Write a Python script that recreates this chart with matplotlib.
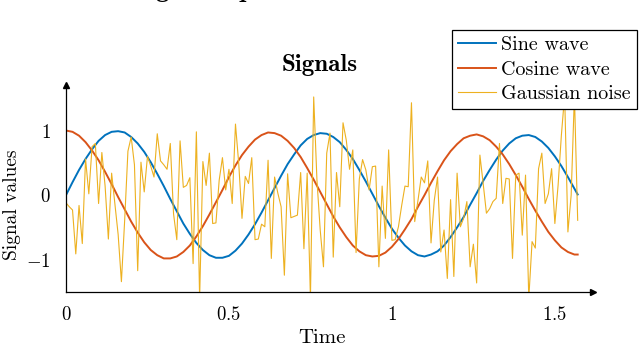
import numpy as np
import matplotlib.pyplot as plt

plt.rcParams['font.family'] = 'serif'
plt.rcParams['font.serif'] = ['cmr10']
plt.rcParams['mathtext.fontset'] = 'cm'
plt.rcParams['axes.unicode_minus'] = False

# sample times (wave curves every 0.02, noise every 0.01)
t_wave = np.append(np.arange(79) * 0.02, 1.57)
t_noise = np.arange(158) * 0.01

sine = [0.00, 0.20, 0.39, 0.56, 0.71, 0.84, 0.93, 0.98, 0.99, 0.97,
        0.90, 0.80, 0.67, 0.51, 0.33, 0.14, -0.06, -0.25, -0.44, -0.60,
        -0.74, -0.85, -0.93, -0.97, -0.97, -0.94, -0.86, -0.75, -0.61, -0.45,
        -0.27, -0.08, 0.11, 0.30, 0.48, 0.63, 0.77, 0.87, 0.93, 0.96,
        0.95, 0.90, 0.82, 0.70, 0.56, 0.39, 0.21, 0.02, -0.17, -0.35,
        -0.52, -0.66, -0.78, -0.87, -0.93, -0.95, -0.92, -0.87, -0.78, -0.65,
        -0.50, -0.34, -0.15, 0.03, 0.22, 0.39, 0.55, 0.69, 0.80, 0.88,
        0.92, 0.93, 0.90, 0.83, 0.73, 0.60, 0.45, 0.28, 0.10, 0.01]

cosine = [1.00, 0.98, 0.92, 0.82, 0.69, 0.54, 0.36, 0.17, -0.03, -0.22,
          -0.41, -0.58, -0.73, -0.85, -0.93, -0.98, -0.98, -0.95, -0.88, -0.78,
          -0.64, -0.48, -0.30, -0.11, 0.08, 0.28, 0.46, 0.62, 0.75, 0.86,
          0.93, 0.97, 0.96, 0.92, 0.84, 0.73, 0.59, 0.42, 0.24, 0.05,
          -0.14, -0.33, -0.50, -0.65, -0.78, -0.87, -0.93, -0.95, -0.94, -0.89,
          -0.80, -0.68, -0.53, -0.37, -0.18, 0.00, 0.19, 0.37, 0.54, 0.68,
          0.79, 0.88, 0.92, 0.94, 0.91, 0.85, 0.75, 0.63, 0.48, 0.31,
          0.13, -0.06, -0.24, -0.41, -0.57, -0.70, -0.81, -0.88, -0.92, -0.92]

noise = [-0.12, -0.18, -0.23, -0.91, -0.16, -0.75, 0.56, 0.02, 0.75, 0.80,
         -0.13, 0.66, 0.14, -0.68, 0.34, -0.13, -0.61, -1.34, -0.39, 0.68,
         0.90, 0.47, -1.17, 0.51, 0.05, 0.60, 0.45, 0.28, 0.95, 0.53,
         0.47, 0.40, 0.80, -0.29, -0.69, 0.84, 0.12, 0.15, 0.27, -1.06,
         0.98, -1.60, 0.52, 0.15, 0.65, -0.44, -0.43, 0.23, 0.58, 0.08,
         0.40, -0.13, 1.10, 0.49, -0.36, 0.29, 0.18, 0.58, -0.69, -0.68,
         -0.45, -0.49, 0.54, -0.98, 0.28, 0.03, -0.18, -1.24, 0.33, -0.35,
         -0.33, -0.31, 0.35, -0.83, 0.34, -1.60, 1.52, 0.23, -0.54, -1.11,
         0.65, 0.96, -0.96, 0.35, -0.18, 1.12, 0.85, 0.40, 0.70, -0.89,
         0.25, 0.55, 0.39, 0.08, 0.44, 0.45, -1.11, 0.14, -0.67, 0.70,
         -0.70, -0.69, -0.49, -0.16, 0.14, 0.13, 1.43, -0.41, -0.08, 0.28,
         0.19, 0.53, -0.74, -0.08, 0.28, -0.88, -0.54, -1.29, -0.07, -1.26,
         0.34, -0.49, -0.36, -0.10, -1.11, -0.76, -1.36, 0.62, 0.18, -0.28,
         -0.21, -0.10, -0.05, 0.80, -0.13, 0.26, 0.25, -0.98, 0.31, 0.34,
         -0.62, 0.31, -1.60, -0.72, -0.82, 0.41, 0.65, -0.13, 0.02, 0.41,
         -0.44, 0.16, 0.93, 1.55, -0.57, 0.00, 1.55, -0.39]

x_ticks = [0, 0.5, 1, 1.5]
x_labels = ['$0$', '$0.5$', '$1$', '$1.5$']
y_ticks = [-1, 0, 1]
y_labels = ['$-1$', '$0$', '$1$']

fig = plt.figure(figsize=(6.4, 3.46), dpi=100)
ax = fig.add_axes([66 / 640, 1 - 292 / 346, 527 / 640, 207 / 346])

ax.plot(t_wave, sine, color='#0072BD', lw=1.4, label='Sine wave')
ax.plot(t_wave, cosine, color='#D95319', lw=1.4, label='Cosine wave')
ax.plot(t_noise, noise, color='#EDB120', lw=0.8, label='Gaussian noise')

ax.set_xlim(0, 1.617)
ax.set_ylim(-1.5, 1.705)
ax.set_xticks(x_ticks, x_labels)
ax.set_yticks(y_ticks, y_labels)
ax.tick_params(length=0, labelsize=13.5)
ax.tick_params(axis='x', pad=10)
ax.tick_params(axis='y', pad=11)

for s in ['top', 'right']:
    ax.spines[s].set_visible(False)
for s in ['left', 'bottom']:
    ax.spines[s].set_linewidth(0.9)
ax.plot(1, 0, '>k', ms=5, transform=ax.transAxes, clip_on=False)
ax.plot(0, 1, '^k', ms=5, transform=ax.transAxes, clip_on=False)

# labels sit where pgfplots put them (centred on the data box, not the arrows)
fig.text(322 / 640, 1 - 338 / 346, 'Time', fontsize=15, ha='center', va='center')
fig.text(12 / 640, 1 - 205 / 346, 'Signal values', fontsize=14, rotation=90,
         ha='center', va='center')
fig.text(320 / 640, 1 - 65 / 346, 'Signals', family='cmb10', fontsize=18,
         ha='center', va='center')

leg = ax.legend(loc='upper right', bbox_to_anchor=(637 / 640, 1 - 30 / 346),
                bbox_transform=fig.transFigure, fontsize=14.5, fancybox=False,
                edgecolor='black', framealpha=1, handlelength=1.9,
                handletextpad=0.25, borderpad=0.3, labelspacing=0.32,
                borderaxespad=0)
leg.get_frame().set_linewidth(0.9)

# heading of the page above the figure, cut off at the top
fig.text(-2 / 640, 1 + 3 / 346, '1', family='cmb10', fontsize=19, va='baseline')
fig.text(41 / 640, 1 + 3 / 346, 'Motivating example', family='cmb10',
         fontsize=19, va='baseline')

fig.savefig('out.png', dpi=100)
